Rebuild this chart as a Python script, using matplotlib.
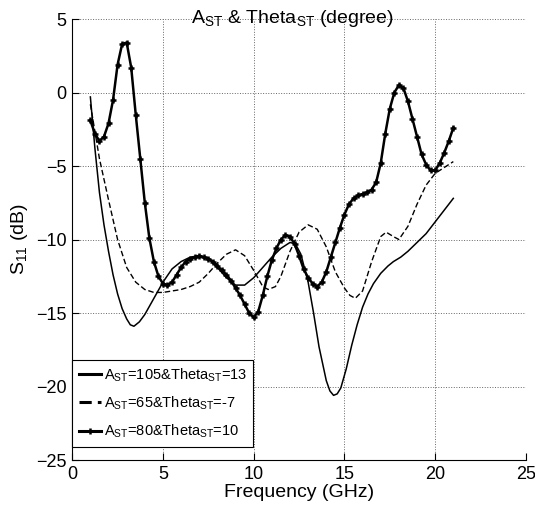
import matplotlib
matplotlib.use("Agg")
import matplotlib.pyplot as plt

plt.rcParams['font.family'] = ['Liberation Sans', 'DejaVu Sans']
plt.rcParams['mathtext.fontset'] = 'custom'
plt.rcParams['mathtext.rm'] = 'Liberation Sans'
plt.rcParams['mathtext.it'] = 'Liberation Sans'

# A_ST=105 & Theta_ST=13 (solid)
f_solid = [1.0, 1.25, 1.5, 1.75, 2.0, 2.25, 2.5, 2.75, 3.0, 3.2, 3.4, 3.7, 4.0, 4.5,
           5.0, 5.5, 6.0, 6.5, 7.0, 7.5, 8.0, 8.5, 9.0, 9.5, 10.0, 10.5, 11.0, 11.5,
           12.0, 12.3, 12.6, 13.0, 13.3, 13.6, 14.0, 14.2, 14.4, 14.6, 14.8, 15.1, 15.4,
           15.7, 16.0, 16.3, 16.6, 17.0, 17.4, 17.7, 18.1, 18.5, 19.0, 19.5, 20.0, 20.5, 21.0]
s_solid = [-0.3, -3.8, -6.8, -9.0, -10.8, -12.4, -13.7, -14.7, -15.4, -15.8, -15.9, -15.6, -15.1, -14.0,
           -12.9, -12.0, -11.5, -11.2, -11.1, -11.3, -11.9, -12.6, -13.1, -13.1, -12.6, -11.9, -11.2, -10.6,
           -10.2, -10.3, -11.0, -12.9, -15.0, -17.3, -19.6, -20.3, -20.6, -20.5, -20.1, -18.8, -17.2,
           -15.8, -14.6, -13.7, -13.0, -12.3, -11.8, -11.5, -11.2, -10.8, -10.2, -9.6, -8.8, -8.0, -7.2]

# A_ST=65 & Theta_ST=-7 (dashed)
f_dash = [1.0, 1.5, 2.0, 2.5, 3.0, 3.5, 4.0, 4.5, 5.0, 5.5, 6.0, 6.5, 7.0, 7.5, 8.0, 8.5,
          9.0, 9.5, 10.0, 10.5, 10.8, 11.2, 11.5, 12.0, 12.5, 13.0, 13.5, 14.0, 14.5, 15.0,
          15.3, 15.6, 16.0, 16.5, 17.0, 17.3, 17.7, 18.0, 18.5, 19.0, 19.5, 20.0, 20.5, 21.0]
s_dash = [-0.8, -4.5, -7.3, -10.0, -11.9, -12.9, -13.4, -13.6, -13.6, -13.5, -13.4, -13.2, -12.9, -12.3, -11.6, -11.0,
          -10.7, -11.1, -12.1, -13.2, -13.4, -13.2, -12.5, -10.8, -9.5, -9.0, -9.3, -10.5, -12.2, -13.3,
          -13.8, -14.0, -13.5, -11.5, -9.8, -9.5, -9.8, -10.0, -9.1, -7.6, -6.3, -5.5, -5.1, -4.7]

# A_ST=80 & Theta_ST=10 (solid with + markers)
f_mark = [1.0, 1.25, 1.5, 1.75, 2.0, 2.25, 2.5, 2.75, 3.0, 3.25, 3.5, 3.75, 4.0, 4.25, 4.5, 4.75,
          5.0, 5.25, 5.5, 5.75, 6.0, 6.25, 6.5, 6.75, 7.0, 7.25, 7.5, 7.75, 8.0, 8.25, 8.5, 8.75,
          9.0, 9.25, 9.5, 9.75, 10.0, 10.25, 10.5, 10.75, 11.0, 11.25, 11.5, 11.75, 12.0, 12.25,
          12.5, 12.75, 13.0, 13.25, 13.5, 13.75, 14.0, 14.25, 14.5, 14.75, 15.0, 15.25, 15.5,
          15.75, 16.0, 16.25, 16.5, 16.75, 17.0, 17.25, 17.5, 17.75, 18.0, 18.25, 18.5, 18.75,
          19.0, 19.25, 19.5, 19.75, 20.0, 20.25, 20.5, 20.75, 21.0]
s_mark = [-1.9, -2.8, -3.3, -3.0, -2.1, -0.5, 1.9, 3.3, 3.4, 1.7, -1.5, -4.5, -7.5, -9.9, -11.5, -12.5,
          -13.0, -13.1, -12.9, -12.4, -11.9, -11.5, -11.3, -11.2, -11.1, -11.2, -11.3, -11.5, -11.8, -12.1, -12.4, -12.8,
          -13.3, -13.8, -14.4, -15.0, -15.3, -14.9, -13.8, -12.5, -11.4, -10.6, -10.0, -9.7, -9.8, -10.3,
          -11.1, -12.0, -12.6, -13.0, -13.2, -12.9, -12.2, -11.2, -10.2, -9.2, -8.3, -7.6, -7.2,
          -7.0, -6.9, -6.8, -6.6, -6.1, -4.8, -2.8, -1.1, 0.0, 0.5, 0.3, -0.6, -1.8,
          -3.0, -4.2, -4.9, -5.3, -5.3, -4.8, -4.1, -3.3, -2.4]

fig, ax = plt.subplots(figsize=(5.35, 5.14), dpi=100)
fig.subplots_adjust(left=0.135, right=0.983, top=0.963, bottom=0.105)

ax.plot(f_solid, s_solid, '-', color='black', lw=1.1,
        label=r'A$_{\mathrm{ST}}$=105&Theta$_{\mathrm{ST}}$=13')
ax.plot(f_dash, s_dash, '--', color='black', lw=1.0, dashes=(4, 2),
        label=r'A$_{\mathrm{ST}}$=65&Theta$_{\mathrm{ST}}$=-7')
ax.plot(f_mark, s_mark, '-', color='black', lw=1.8, marker='+', ms=5, mew=1.8,
        label=r'A$_{\mathrm{ST}}$=80&Theta$_{\mathrm{ST}}$=10')

ax.set_xlim(0, 25)
ax.set_ylim(-25, 5)
ax.set_xticks([0, 5, 10, 15, 20, 25])
ax.set_yticks([-25, -20, -15, -10, -5, 0, 5])
ax.grid(True, linestyle=':', color='black', lw=0.7, alpha=0.6)
ax.spines['top'].set_visible(False)
ax.spines['right'].set_visible(False)
ax.tick_params(direction='in', labelsize=13, length=5, pad=4)

ax.set_xlabel('Frequency (GHz)', fontsize=14, labelpad=1)
ax.set_ylabel(r'S$_{\mathrm{11}}$ (dB)', fontsize=14, labelpad=4)
ax.text(0.485, 0.99, r'A$_{\mathrm{ST}}$ & Theta$_{\mathrm{ST}}$ (degree)', fontsize=14,
        transform=ax.transAxes, ha='center', va='baseline')

leg = ax.legend(loc='lower left', bbox_to_anchor=(0.0, 0.03), fontsize=10.5,
                handlelength=1.5, handletextpad=0.2, borderaxespad=0.0, borderpad=0.45,
                labelspacing=0.75, fancybox=False, framealpha=1)
leg.get_frame().set_edgecolor('black')
leg.get_frame().set_linewidth(0.8)
for h in leg.get_lines():
    h.set_linewidth(2.2)

fig.savefig('out.png', dpi=100)
